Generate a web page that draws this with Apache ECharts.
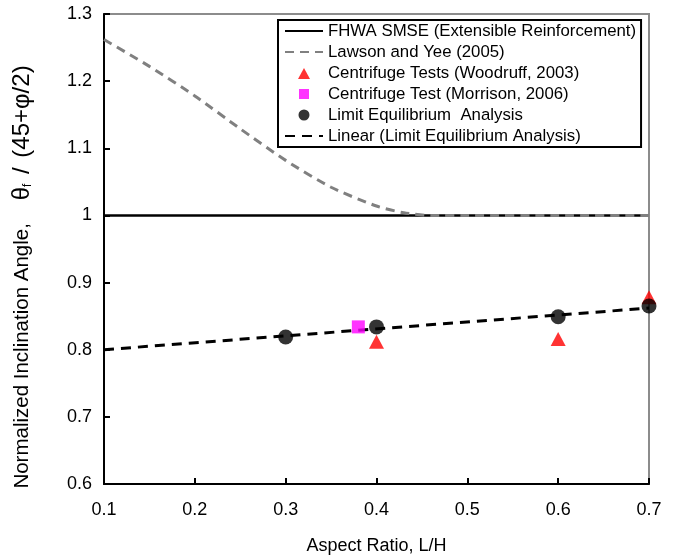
<!DOCTYPE html>
<html>
<head>
<meta charset="utf-8">
<script src="https://cdn.jsdelivr.net/npm/echarts@6/dist/echarts.min.js"></script>
<style>
  html, body { margin: 0; padding: 0; background: #fff; }
  #chart { width: 680px; height: 557px; }
</style>
</head>
<body>
<div id="chart"></div>
<script>
// Normalized inclination angle vs. aspect ratio
const xTicks = [0.1, 0.2, 0.3, 0.4, 0.5, 0.6, 0.7];
const yTicks = [0.6, 0.7, 0.8, 0.9, 1.0, 1.1, 1.2, 1.3];

// FHWA SMSE design value (constant)
const fhwaX = [0.1, 0.7];
const fhwaY = [1.0, 1.0];

// Lawson and Yee (2005) curve
const lawsonX = [0.1, 0.15, 0.2, 0.25, 0.3, 0.35, 0.4, 0.43, 0.46, 0.5, 0.6, 0.7];
const lawsonY = [1.262, 1.222, 1.178, 1.129, 1.082, 1.042, 1.014, 1.004, 1.0, 1.0, 1.0, 1.0];

// Centrifuge tests (Woodruff, 2003)
const woodruffX = [0.4, 0.6, 0.7];
const woodruffY = [0.812, 0.816, 0.878];

// Centrifuge test (Morrison, 2006)
const morrisonX = [0.38];
const morrisonY = [0.834];

// Limit equilibrium analysis
const leaX = [0.3, 0.4, 0.6, 0.7];
const leaY = [0.819, 0.834, 0.849, 0.865];

// Linear fit of the limit equilibrium results
const linearX = [0.1, 0.7];
const linearY = [0.800, 0.862];

const pairs = (xs, ys) => xs.map((x, i) => [x, ys[i]]);

const FONT = 'Liberation Sans, Arial, sans-serif';
const chart = echarts.init(document.getElementById('chart'), null, { renderer: 'canvas' });

const names = [
  'FHWA SMSE (Extensible Reinforcement)',
  'Lawson and Yee (2005)',
  'Centrifuge Tests (Woodruff, 2003)',
  'Centrifuge Test (Morrison, 2006)',
  'Limit Equilibrium  Analysis',
  'Linear (Limit Equilibrium Analysis)'
];

// line entries show only their stroke in the legend
const lineEntry = name => ({ name, itemStyle: { opacity: 0 } });
// marker icons sit centred in the 38x12 legend slot (the leading moves fix the box)
const BOX = 'path://M0,0M38,12';
const triIcon = BOX + 'M13,12L19,1L25,12Z';
const rectIcon = BOX + 'M14,1L24,1L24,11L14,11Z';
const circIcon = BOX + 'M19,0.5A5.5,5.5,0,1,1,18.99,0.5Z';

chart.setOption({
  animation: false,
  backgroundColor: '#ffffff',
  textStyle: { fontFamily: FONT },
  grid: {
    left: 104, right: 31, top: 14, bottom: 73,
    outerBoundsMode: 'none', containLabel: false,
    show: true, borderColor: '#8c8c8c', borderWidth: 2, backgroundColor: '#ffffff'
  },
  legend: {
    orient: 'vertical',
    left: 278, top: 20,
    data: [
      lineEntry(names[0]),
      lineEntry(names[1]),
      { name: names[2], icon: triIcon },
      { name: names[3], icon: rectIcon },
      { name: names[4], icon: circIcon },
      lineEntry(names[5])
    ],
    backgroundColor: '#ffffff',
    borderColor: '#000000', borderWidth: 2,
    padding: [2, 5, 2, 6],
    itemGap: 3,
    itemWidth: 38, itemHeight: 12,
    textStyle: { fontFamily: FONT, fontSize: 16.8, lineHeight: 18, color: '#000' },
    selectedMode: false
  },
  xAxis: {
    type: 'value', min: 0.1, max: 0.7, interval: 0.1,
    name: 'Aspect Ratio, L/H', nameLocation: 'middle', nameGap: 53,
    nameTextStyle: { fontFamily: FONT, fontSize: 18, color: '#000' },
    axisLine: { onZero: false, lineStyle: { color: '#000', width: 2 } },
    axisTick: { inside: true, length: 6, lineStyle: { color: '#000', width: 2 } },
    axisLabel: { fontFamily: FONT, fontSize: 18, color: '#000', margin: 17,
      formatter: v => String(Math.round(v * 10) / 10) },
    splitLine: { show: false }
  },
  yAxis: {
    type: 'value', min: 0.6, max: 1.3, interval: 0.1,
    name: '{a|Normalized Inclination Angle,    }{b|θ}{s|f}{m| / }{e|(45+φ/2)}',
    nameLocation: 'middle', nameGap: 70,
    nameTextStyle: {
      fontFamily: FONT, fontSize: 20.5, color: '#000',
      rich: {
        a: { fontFamily: FONT, fontSize: 20.5, color: '#000' },
        b: { fontFamily: FONT, fontSize: 24, color: '#000' },
        s: { fontFamily: FONT, fontSize: 12, color: '#000', verticalAlign: 'bottom', padding: [11, 0, 0, 0] },
        m: { fontFamily: FONT, fontSize: 24, color: '#000', padding: [0, 3, 0, 3] },
        e: { fontFamily: FONT, fontSize: 24, color: '#000', padding: [0, 56, 0, 0] }
      }
    },
    axisLine: { onZero: false, lineStyle: { color: '#000', width: 2 } },
    axisTick: { inside: true, length: 6, lineStyle: { color: '#000', width: 2 } },
    axisLabel: { fontFamily: FONT, fontSize: 18, color: '#000', margin: 12,
      formatter: v => String(Math.round(v * 10) / 10) },
    splitLine: { show: false }
  },
  series: [
    {
      name: names[0], type: 'line', data: pairs(fhwaX, fhwaY),
      symbol: 'none', lineStyle: { color: '#000', width: 2.5, type: 'solid' },
      itemStyle: { color: '#000' }, z: 3
    },
    {
      name: names[1], type: 'line', data: pairs(lawsonX, lawsonY),
      symbol: 'none', smooth: 0.25,
      lineStyle: { color: '#808080', width: 3, type: [9, 6] },
      itemStyle: { color: '#808080' }, z: 4
    },
    {
      name: names[5], type: 'line', data: pairs(linearX, linearY),
      symbol: 'none', lineStyle: { color: '#000', width: 3, type: [10, 7] },
      itemStyle: { color: '#000' }, z: 5
    },
    {
      name: names[2], type: 'scatter', data: pairs(woodruffX, woodruffY),
      symbol: 'triangle', symbolSize: [15, 14],
      itemStyle: { color: '#ff0000' }, z: 6
    },
    {
      name: names[3], type: 'scatter', data: pairs(morrisonX, morrisonY),
      symbol: 'rect', symbolSize: 13,
      itemStyle: { color: '#ff00ff' }, z: 7
    },
    {
      name: names[4], type: 'scatter', data: pairs(leaX, leaY),
      symbol: 'circle', symbolSize: 15,
      itemStyle: { color: '#000' }, z: 8
    }
  ]
});
</script>
</body>
</html>
